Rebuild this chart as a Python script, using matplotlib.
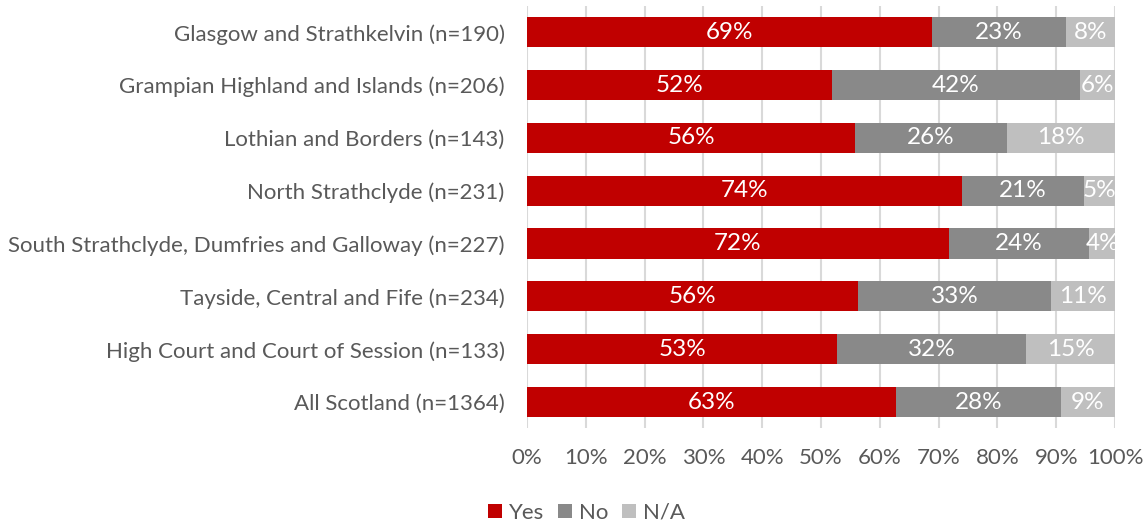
import numpy as np
import matplotlib.pyplot as plt
from matplotlib.ticker import FuncFormatter

plt.rcParams['font.family'] = ['Lato', 'DejaVu Sans']

regions = [
    'Glasgow and Strathkelvin (n=190)',
    'Grampian Highland and Islands (n=206)',
    'Lothian and Borders (n=143)',
    'North Strathclyde (n=231)',
    'South Strathclyde, Dumfries and Galloway (n=227)',
    'Tayside, Central and Fife (n=234)',
    'High Court and Court of Session (n=133)',
    'All Scotland (n=1364)',
]
yes = [68.9, 51.8, 55.8, 73.9, 71.7, 56.3, 52.8, 62.8]
no = [22.7, 42.2, 25.8, 20.8, 23.9, 32.8, 32.1, 28.0]
na = [8.4, 6.0, 18.4, 5.3, 4.4, 10.9, 15.1, 9.2]

series = [('Yes', yes, '#C00000'), ('No', no, '#898989'), ('N/A', na, '#BFBFBF')]

fig = plt.figure(figsize=(11.43, 5.27), dpi=100)
ax = fig.add_axes([0.461, 0.187, 0.5145, 0.802])

y = np.arange(len(regions))
left = np.zeros(len(regions))
for name, vals, col in series:
    vals = np.array(vals)
    ax.barh(y, vals, left=left, height=0.57, color=col, label=name, zorder=3)
    for yi, l, v in zip(y, left, vals):
        ax.text(l + v / 2, yi, '{:.0f}%'.format(v), ha='center', va='center',
                color='white', fontsize=17.5, zorder=4)
    left += vals

ax.set_xlim(0, 100)
ax.set_ylim(len(regions) - 0.5, -0.5)
ax.set_xticks(np.arange(0, 101, 10))
ax.xaxis.set_major_formatter(FuncFormatter(lambda v, p: '{:.0f}%'.format(v)))
ax.set_yticks(y)
ax.set_yticklabels(regions)
ax.tick_params(axis='both', length=0, labelsize=16, colors='#595959')
ax.tick_params(axis='x', pad=14)
ax.tick_params(axis='y', pad=16)
ax.grid(axis='x', color='#D9D9D9', linewidth=1.5, zorder=0)
for s in ax.spines.values():
    s.set_visible(False)

fig.legend(*ax.get_legend_handles_labels(), loc='center', bbox_to_anchor=(0.513, 0.027),
           ncol=3, frameon=False, fontsize=16, handlelength=0.65, handleheight=0.65,
           handletextpad=0.3, columnspacing=0.6, labelcolor='#595959')

fig.savefig('out.png', dpi=100)
